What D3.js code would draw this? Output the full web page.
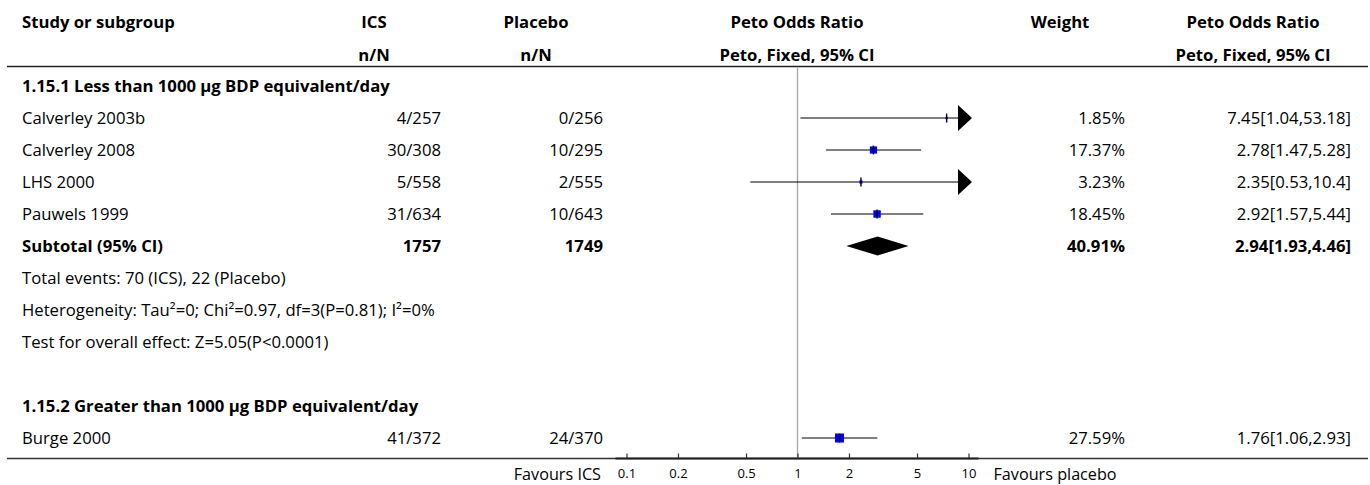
<!DOCTYPE html>
<html>
<head>
<meta charset="utf-8">
<script src="https://cdn.jsdelivr.net/npm/d3@7"></script>
<style>
  html, body { margin: 0; padding: 0; background: #fff; }
  svg { display: block; font-family: "Open Sans", "Noto Sans", sans-serif; }
</style>
</head>
<body>
<svg id="chart" width="1370" height="485"></svg>
<script>
// ---- data ----
const headers1 = ["Study or subgroup", "ICS", "Placebo", "Peto Odds Ratio", "Weight", "Peto Odds Ratio"];
const headers2 = ["", "n/N", "n/N", "Peto, Fixed, 95% CI", "", "Peto, Fixed, 95% CI"];

const group1Title = "1.15.1 Less than 1000 µg BDP equivalent/day";
const group1Studies = ["Calverley 2003b", "Calverley 2008", "LHS 2000", "Pauwels 1999"];
const group1Ics = ["4/257", "30/308", "5/558", "31/634"];
const group1Placebo = ["0/256", "10/295", "2/555", "10/643"];
const group1Or = [7.45, 2.78, 2.35, 2.92];
const group1Lo = [1.04, 1.47, 0.53, 1.57];
const group1Hi = [53.18, 5.28, 10.4, 5.44];
const group1Weight = [1.85, 17.37, 3.23, 18.45];
const group1OrText = ["7.45[1.04,53.18]", "2.78[1.47,5.28]", "2.35[0.53,10.4]", "2.92[1.57,5.44]"];

const subtotalLabel = "Subtotal (95% CI)";
const subtotalIcs = "1757";
const subtotalPlacebo = "1749";
const subtotalOr = 2.94, subtotalLo = 1.93, subtotalHi = 4.46;
const subtotalWeight = "40.91%";
const subtotalOrText = "2.94[1.93,4.46]";
const group1Notes = [
  "Total events: 70 (ICS), 22 (Placebo)",
  "Heterogeneity: Tau²=0; Chi²=0.97, df=3(P=0.81); I²=0%",
  "Test for overall effect: Z=5.05(P<0.0001)"
];

const group2Title = "1.15.2 Greater than 1000 µg BDP equivalent/day";
const group2Studies = ["Burge 2000"];
const group2Ics = ["41/372"];
const group2Placebo = ["24/370"];
const group2Or = [1.76];
const group2Lo = [1.06];
const group2Hi = [2.93];
const group2Weight = [27.59];
const group2OrText = ["1.76[1.06,2.93]"];

const axisTicks = [0.1, 0.2, 0.5, 1, 2, 5, 10];
const favoursLeft = "Favours ICS";
const favoursRight = "Favours placebo";

// ---- layout ----
const svg = d3.select("#chart");
const FS = 16.7;
const colStudy = 22;
const colIcsC = 374, colIcsR = 441;
const colPlaC = 536, colPlaR = 603;
const colPlotC = 797;
const colWC = 1060, colWR = 1125;
const colOrC = 1253, colOrR = 1351;

const x = d3.scaleLog().domain([0.1, 10]).range([626.5, 968.5]);
const rowY = i => 86 + 32 * i;
const lineTop = 66.5, lineBottom = 458.5;

function txt(xp, y, s, anchor, bold, size) {
  svg.append("text")
    .attr("x", xp).attr("y", y).attr("dy", "0.35em")
    .attr("text-anchor", anchor)
    .attr("font-size", size || FS)
    .attr("font-weight", bold ? "bold" : "normal")
    .attr("fill", "#000")
    .text(s);
}

// headers
const hx = [colStudy, colIcsC, colPlaC, colPlotC, colWC, colOrC];
const ha = ["start", "middle", "middle", "middle", "middle", "middle"];
headers1.forEach((h, i) => txt(hx[i], 22, h, ha[i], true));
headers2.forEach((h, i) => { if (h) txt(hx[i], 55, h, ha[i], true); });

// header rule and bottom rule
svg.append("line").attr("x1", 7).attr("x2", 1368).attr("y1", lineTop).attr("y2", lineTop)
  .attr("stroke", "#222").attr("stroke-width", 1.5);
svg.append("line").attr("x1", 7).attr("x2", 1368).attr("y1", lineBottom).attr("y2", lineBottom)
  .attr("stroke", "#333").attr("stroke-width", 1.5);

// null line
svg.append("line").attr("x1", x(1)).attr("x2", x(1)).attr("y1", lineTop + 1).attr("y2", lineBottom)
  .attr("stroke", "#a6a6a6").attr("stroke-width", 1.3);

// study rows
function studyRow(r, name, ics, pla, or, lo, hi, w, orText) {
  const y = rowY(r);
  txt(colStudy, y, name, "start", false);
  txt(colIcsR, y, ics, "end", false);
  txt(colPlaR, y, pla, "end", false);
  txt(colWR, y, w.toFixed(2) + "%", "end", false);
  txt(colOrR, y, orText, "end", false);

  const tipR = x(10) + 3.5, tipL = x(0.1) - 3.5;
  const clipR = hi > 10, clipL = lo < 0.1;
  const x1 = clipL ? tipL + 14 : x(lo);
  const x2 = clipR ? tipR - 14 : x(hi);
  svg.append("line").attr("x1", x1).attr("x2", x2).attr("y1", y).attr("y2", y)
    .attr("stroke", "#000").attr("stroke-width", 1.2);
  if (clipR) {
    svg.append("path")
      .attr("d", `M${tipR - 14},${y - 13}L${tipR},${y}L${tipR - 14},${y + 13}Z`)
      .attr("fill", "#000");
  }
  if (clipL) {
    svg.append("path")
      .attr("d", `M${tipL + 14},${y - 13}L${tipL},${y}L${tipL + 14},${y + 13}Z`)
      .attr("fill", "#000");
  }
  const s = 1.72 * Math.sqrt(w);
  svg.append("rect").attr("x", x(or) - s / 2).attr("y", y - s / 2)
    .attr("width", s).attr("height", s).attr("fill", "#0000ff");
  svg.append("line").attr("x1", x(or)).attr("x2", x(or)).attr("y1", y - 4.5).attr("y2", y + 4.5)
    .attr("stroke", "#000").attr("stroke-width", 1.4);
}

txt(colStudy, rowY(0), group1Title, "start", true);
group1Studies.forEach((s, i) =>
  studyRow(i + 1, s, group1Ics[i], group1Placebo[i], group1Or[i], group1Lo[i], group1Hi[i], group1Weight[i], group1OrText[i]));

// subtotal
const ys = rowY(5);
txt(colStudy, ys, subtotalLabel, "start", true);
txt(colIcsR, ys, subtotalIcs, "end", true);
txt(colPlaR, ys, subtotalPlacebo, "end", true);
txt(colWR, ys, subtotalWeight, "end", true);
txt(colOrR, ys, subtotalOrText, "end", true);
svg.append("path")
  .attr("d", `M${x(subtotalLo)},${ys}L${x(subtotalOr)},${ys - 9.5}L${x(subtotalHi)},${ys}L${x(subtotalOr)},${ys + 9.5}Z`)
  .attr("fill", "#000");

group1Notes.forEach((n, i) => txt(colStudy, rowY(6 + i), n, "start", false));

txt(colStudy, rowY(10), group2Title, "start", true);
group2Studies.forEach((s, i) =>
  studyRow(11 + i, s, group2Ics[i], group2Placebo[i], group2Or[i], group2Lo[i], group2Hi[i], group2Weight[i], group2OrText[i]));

// axis
const axis = d3.axisBottom(x).tickValues(axisTicks).tickFormat(d3.format("")).tickSizeInner(-5).tickSizeOuter(0).tickPadding(10);
const ag = svg.append("g").attr("transform", `translate(0,${lineBottom})`).call(axis);
ag.select(".domain").remove();
ag.selectAll(".tick line").attr("stroke", "#333").attr("stroke-width", 1.2);
ag.selectAll(".tick text").attr("font-size", 13).attr("fill", "#000").attr("font-family", "'Open Sans', sans-serif");
ag.append("line").attr("x1", x.range()[0] - 11).attr("x2", x.range()[1] + 10)
  .attr("y1", 0).attr("y2", 0).attr("stroke", "#222").attr("stroke-width", 1.8);

txt(x.range()[0] - 25.5, 474, favoursLeft, "end", false, 16.2);
txt(x.range()[1] + 25, 474, favoursRight, "start", false, 16.2);
</script>
</body>
</html>
